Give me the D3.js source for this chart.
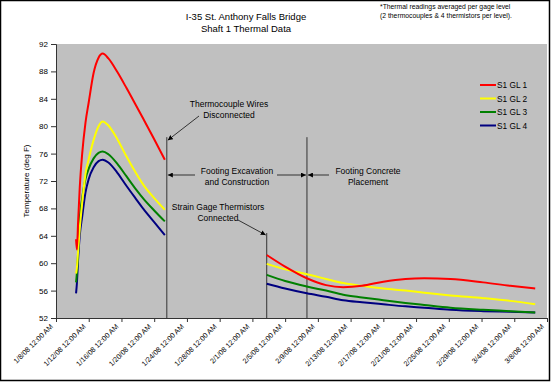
<!DOCTYPE html>
<html><head><meta charset="utf-8">
<script src="https://cdn.jsdelivr.net/npm/d3@7"></script>
<style>
body{margin:0;background:#fff;}
svg text{font-family:"Liberation Sans",Arial,sans-serif;fill:#000;}
</style></head><body>
<svg id="c" width="551" height="382"></svg>
<script>
// ---- data ----
const seriesNames = ["S1 GL 1","S1 GL 2","S1 GL 3","S1 GL 4"];
const seriesColors = ["#ff0000","#ffff00","#008000","#000080"];
const seg1Times = ["2008-01-10T10:48","2008-01-10T13:12","2008-01-10T16:48","2008-01-10T21:36","2008-01-11T04:48","2008-01-11T14:24","2008-01-12T00:00","2008-01-12T14:24","2008-01-13T04:48","2008-01-13T16:48","2008-01-14T09:36","2008-01-15T12:00","2008-01-16T14:24","2008-01-17T16:48","2008-01-18T16:48","2008-01-20T00:00","2008-01-21T07:12"];
const seg1GL1 = [63.5,62.0,66.0,71.0,76.0,80.5,83.5,87.8,90.0,90.6,89.9,87.9,85.6,83.2,81.0,78.1,75.1];
const seg1GL2 = [58.5,59.3,61.8,65.0,68.8,73.0,75.2,78.0,80.0,80.7,80.1,78.1,75.6,73.3,71.4,69.5,67.8];
const seg1GL3 = [57.2,58.5,61.5,66.5,69.5,72.3,73.8,75.3,76.1,76.3,75.9,74.5,72.7,70.9,69.4,67.7,66.1];
const seg1GL4 = [55.6,57.0,60.5,64.0,66.8,70.3,72.3,74.0,74.9,75.1,74.7,73.2,71.3,69.5,67.9,66.0,64.1];
const seg2Times = ["2008-02-02T18:00","2008-02-05T00:00","2008-02-07T15:36","2008-02-10T00:00","2008-02-12T02:24","2008-02-14T09:36","2008-02-17T00:00","2008-02-19T16:48","2008-02-22T00:00","2008-02-25T04:48","2008-02-29T04:48","2008-03-03T12:00","2008-03-06T13:26"];
const seg2GL1 = [61.2,59.5,57.8,56.8,56.5,56.7,57.3,57.7,57.8,57.7,57.2,56.7,56.3];
const seg2GL2 = [59.9,59.1,58.4,57.7,57.1,56.7,56.3,56.0,55.7,55.3,54.9,54.5,54.0];
const seg2GL3 = [58.3,57.4,56.6,56.0,55.4,55.0,54.6,54.2,53.9,53.5,53.2,53.0,52.8];
const seg2GL4 = [57.0,56.3,55.6,55.1,54.6,54.3,54.0,53.7,53.5,53.2,53.0,52.9,52.8];
const yTicks = [52,56,60,64,68,72,76,80,84,88,92];
const xTickDates = ["2008-01-08","2008-01-12","2008-01-16","2008-01-20","2008-01-24","2008-01-28","2008-02-01","2008-02-05","2008-02-09","2008-02-13","2008-02-17","2008-02-21","2008-02-25","2008-02-29","2008-03-04","2008-03-08"];
const eventDates = ["2008-01-21T13:00","2008-02-02T18:00","2008-02-07T16:00"];
const eventTops = [78.4,64.4,78.4];

// ---- layout ----
const parse = s => new Date(s.length===10 ? s+"T00:00" : s);
const svg = d3.select("#c");
const L=56, R=547, T=44, B=318;
const x = d3.scaleTime().domain([parse("2008-01-08"), parse("2008-03-08")]).range([L,R]);
const y = d3.scaleLinear().domain([52,92]).range([B,T]);

svg.append("rect").attr("x",0.5).attr("y",0.5).attr("width",549).attr("height",380)
  .attr("fill","#fff").attr("stroke","#000").attr("stroke-width",1.5);
svg.append("rect").attr("x",L).attr("y",T).attr("width",R-L).attr("height",B-T).attr("fill","#c0c0c0");

// titles
svg.append("text").attr("x",246).attr("y",20).attr("text-anchor","middle").attr("font-size",9.5).text("I-35 St. Anthony Falls Bridge");
svg.append("text").attr("x",246).attr("y",32).attr("text-anchor","middle").attr("font-size",9.5).text("Shaft 1 Thermal Data");
svg.append("text").attr("x",380).attr("y",9).attr("font-size",6.8).text("*Thermal readings averaged per gage level");
svg.append("text").attr("x",380).attr("y",18).attr("font-size",6.8).text("(2 thermocouples & 4 thermistors per level).");

// y axis
const yAx = svg.append("g").attr("transform",`translate(${L},0)`)
  .call(d3.axisLeft(y).tickValues(yTicks).tickSize(5).tickPadding(3).tickFormat(d3.format("d")));
yAx.selectAll("text").attr("font-size",8).style("font-family","Liberation Sans,Arial,sans-serif");
yAx.selectAll("line,path").attr("stroke","#333");
svg.append("text").attr("transform","translate(29,181) rotate(-90)").attr("text-anchor","middle").attr("font-size",8).text("Temperature (deg F)");

// x axis
const fmt = d => `${d.getMonth()+1}/${d.getDate()}/08 12:00 AM`;
const xAx = svg.append("g").attr("transform",`translate(0,${B})`)
  .call(d3.axisBottom(x).tickValues(xTickDates.map(parse)).tickSize(4).tickSizeOuter(0).tickFormat(fmt));
xAx.selectAll("line,path").attr("stroke","#333");
xAx.selectAll("text").attr("font-size",7.2).style("font-family","Liberation Sans,Arial,sans-serif")
  .attr("text-anchor","end").attr("dy",null).attr("y",0)
  .attr("transform","translate(-3,9) rotate(-45)");

// event lines
eventDates.forEach((d,i)=>{
  svg.append("line").attr("x1",x(parse(d))).attr("x2",x(parse(d)))
    .attr("y1",y(eventTops[i])).attr("y2",B).attr("stroke","#333").attr("stroke-width",1);
});

// series
const line = d3.line().x(d=>x(d[0])).y(d=>y(d[1])).curve(d3.curveMonotoneX);
const seg1 = [seg1GL1,seg1GL2,seg1GL3,seg1GL4];
const seg2 = [seg2GL1,seg2GL2,seg2GL3,seg2GL4];
for (let i=3;i>=0;i--){
  [[seg1Times,seg1[i]],[seg2Times,seg2[i]]].forEach(([ts,vs])=>{
    svg.append("path").datum(ts.map((t,k)=>[parse(t),vs[k]]))
      .attr("d",line).attr("fill","none").attr("stroke",seriesColors[i]).attr("stroke-width",2);
  });
}

// legend
seriesNames.forEach((n,i)=>{
  const yy = 85 + i*13.5;
  svg.append("line").attr("x1",480).attr("x2",496).attr("y1",yy).attr("y2",yy).attr("stroke",seriesColors[i]).attr("stroke-width",2);
  svg.append("text").attr("x",497).attr("y",yy+3).attr("font-size",8.3).text(n);
});

// annotations
const defs = svg.append("defs");
defs.append("marker").attr("id","ah").attr("viewBox","0 0 10 10").attr("refX",10).attr("refY",5)
  .attr("markerWidth",5).attr("markerHeight",5).attr("orient","auto")
  .append("path").attr("d","M0,0L10,5L0,10z").attr("fill","#000");
function arrow(x1,y1,x2,y2){
  svg.append("line").attr("x1",x1).attr("y1",y1).attr("x2",x2).attr("y2",y2)
    .attr("stroke","#333").attr("stroke-width",1).attr("marker-end","url(#ah)");
}
function label(cx,cy,lines){
  lines.forEach((t,i)=>svg.append("text").attr("x",cx).attr("y",cy+i*10.5).attr("text-anchor","middle").attr("font-size",8.5).text(t));
}
const ex0 = x(parse(eventDates[0])), ex1 = x(parse(eventDates[1])), ex2 = x(parse(eventDates[2]));
label(229,107,["Thermocouple Wires","Disconnected"]);
arrow(199,116,ex0+1,y(eventTops[0])+3);
label(237,174,["Footing Excavation","and Construction"]);
arrow(195,175,ex0+1,175);
arrow(277,175,ex2-1,175);
label(368,174,["Footing Concrete","Placement"]);
arrow(329,175,ex2+1,175);
label(218,210,["Strain Gage Thermistors","Connected"]);
arrow(238,220,ex1-1,y(eventTops[1])+2);
</script>
</body></html>
